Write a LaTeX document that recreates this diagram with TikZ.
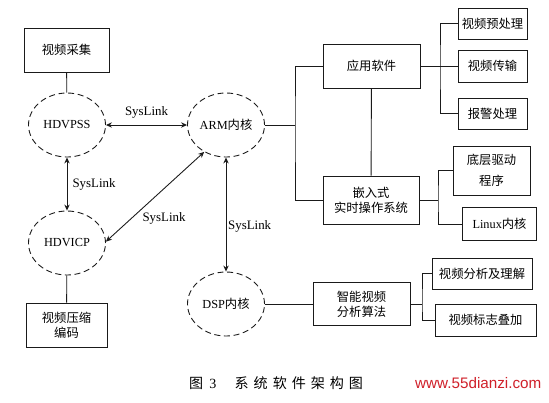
\documentclass[tikz,border=0pt]{standalone}
\usepackage{fontspec}
\setmainfont{Liberation Serif}
\newfontfamily\cjk{Noto Sans CJK SC}
\newfontfamily\webfont{Liberation Sans}
\usetikzlibrary{arrows.meta,shapes.geometric}
\definecolor{Ink}{HTML}{1A1A1A}
\definecolor{Mark}{HTML}{D0202A}
\tikzset{
  module/.style={
    draw=Ink, line width=0.75pt, fill=white, align=center,
    inner sep=1pt, font=\fontsize{10.5}{13}\selectfont
  },
  core/.style={
    ellipse, draw=Ink, line width=0.75pt, dash pattern=on 1.8mm off 1.1mm,
    minimum width=23.1mm, minimum height=19.2mm, inner sep=0pt,
    font=\fontsize{10.5}{13}\selectfont
  },
  link/.style={draw=Ink, line width=0.75pt},
  syslink/.style={{Stealth[length=1.8mm,width=1.6mm]}-{Stealth[length=1.8mm,width=1.6mm]},
    line width=0.75pt, draw=Ink},
  linklabel/.style={font=\fontsize{11}{13}\selectfont, inner sep=1.5pt}
}

\begin{document}
\begin{tikzpicture}[x=0.3mm,y=-0.3mm]
    \useasboundingbox[fill=white] (0,0) rectangle (549,402);

    % processor cores
    \node[core] (hdvpss) at (67,125) {HDVPSS};
    \node[core] (arm) at (226,125) {ARM{\cjk 内核}};
    \node[core] (hdvicp) at (67,243) {HDVICP};
    \node[core] (dsp) at (226,304) {DSP{\cjk 内核}};

    % left side
    \node[module,minimum width=25.5mm,minimum height=13.2mm] (capture) at (66.5,50) {\cjk 视频采集};
    \node[module,minimum width=24.3mm,minimum height=13.2mm] (encode) at (66.5,325)
      {\cjk 视频压缩\\\cjk 编码};

    % ARM software
    \node[module,minimum width=29.1mm,minimum height=13.2mm] (app) at (371.5,66) {\cjk 应用软件};
    \node[module,minimum width=28.8mm,minimum height=14.4mm] (rtos) at (371,200)
      {\cjk 嵌入式\\\cjk 实时操作系统};
    \node[module,minimum width=20.7mm,minimum height=9.3mm] (prep) at (492.5,23.5) {\cjk 视频预处理};
    \node[module,minimum width=20.7mm,minimum height=9.6mm] (trans) at (492.5,66) {\cjk 视频传输};
    \node[module,minimum width=20.7mm,minimum height=9.3mm] (alarm) at (492.5,113.5) {\cjk 报警处理};
    \node[module,minimum width=23.1mm,minimum height=14.7mm] (driver) at (491.5,170.5)
      {\cjk 底层驱动\\[1.8mm]\cjk 程序};
    \node[module,minimum width=22.2mm,minimum height=9.9mm] (linux) at (499.5,224) {Linux{\cjk 内核}};

    % DSP software
    \node[module,minimum width=29.1mm,minimum height=12.9mm] (algo) at (361.5,304)
      {\cjk 智能视频\\\cjk 分析算法};
    \node[module,minimum width=30mm,minimum height=9.3mm] (analyse) at (482,273.5) {\cjk 视频分析及理解};
    \node[module,minimum width=30.3mm,minimum height=9.6mm] (overlay) at (485.5,320) {\cjk 视频标志叠加};

    \coordinate (armbus) at (295,125);
    \coordinate (appbus) at (440,66);
    \coordinate (rtosbus) at (438,200);
    \coordinate (algobus) at (422,304);

    % SysLink
    \draw[syslink] (hdvpss) -- node[linklabel,above=4pt]{SysLink} (arm);
    \draw[syslink] (hdvpss) -- node[linklabel,right=1mm]{SysLink} (hdvicp);
    \draw[syslink] (arm.231) -- node[linklabel,pos=0.65,below right]{SysLink} (hdvicp.2);
    \draw[syslink] (arm) -- node[linklabel,pos=0.6,right]{SysLink} (dsp);

    % tree lines
    \draw[link] (capture) -- (hdvpss);
    \draw[link] (hdvicp) -- (encode);
    \draw[link] (arm) -- (armbus);
    \draw[link] (app.west) -| (armbus) |- (rtos.west);
    \draw[link] (app) -- (rtos);
    \draw[link] (app) -- (appbus);
    \draw[link] (prep.west) -| (appbus) |- (alarm.west);
    \draw[link] (appbus) -- (trans);
    \draw[link] (rtos) -- (rtosbus);
    \draw[link] (driver.west) -| (rtosbus) |- (linux.west);
    \draw[link] (dsp) -- (algo);
    \draw[link] (algo) -- (algobus);
    \draw[link] (analyse.west) -| (algobus) |- (overlay.west);

    % caption
    \node[anchor=west,inner sep=0pt,font=\fontsize{12}{14}\selectfont] (caption) at (189,383)
      {{\cjk 图}\kern1.8mm 3\kern5.5mm{\cjk 系\kern1.5mm 统\kern1.5mm 软\kern1.5mm 件\kern1.5mm 架\kern1.5mm 构\kern1.5mm 图}};
    \node[anchor=west,inner sep=0pt,text=Mark,font=\webfont\fontsize{13}{15}\selectfont] (site) at (415,383)
      {www.55dianzi.com};
\end{tikzpicture}
\end{document}
